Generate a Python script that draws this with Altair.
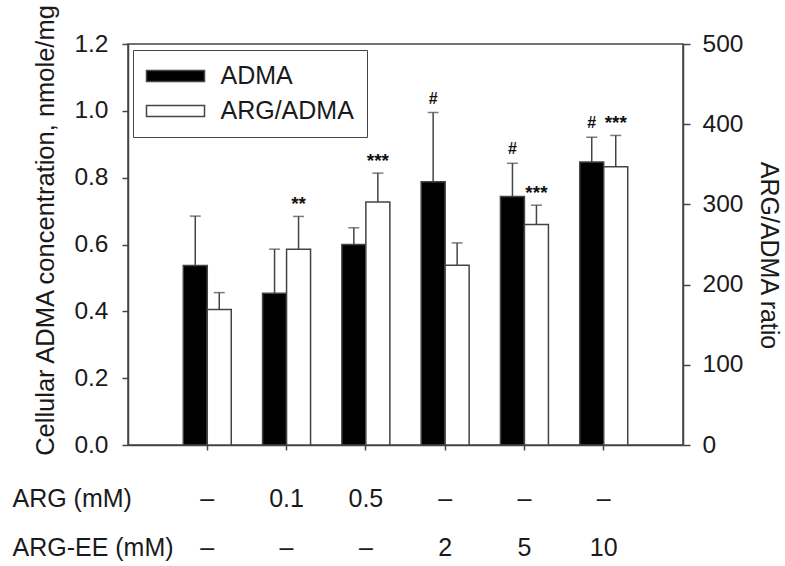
import altair as alt
import pandas as pd

# --- data ---
arg_mM = ["–", "0.1", "0.5", "–", "–", "–"]
arg_ee_mM = ["–", "–", "–", "2", "5", "10"]
series = ["ADMA", "ARG/ADMA"]

adma_mean = [0.537, 0.454, 0.600, 0.788, 0.744, 0.847]
adma_sd = [0.148, 0.132, 0.050, 0.207, 0.099, 0.074]
ratio_mean = [169, 244, 303, 224, 275, 347]
ratio_sd = [21, 41, 36, 28, 24, 39]

adma_sig = ["", "", "", "#", "#", "#"]
ratio_sig = ["", "**", "***", "", "***", "***"]

row_titles = ["ARG (mM)", "ARG-EE (mM)"]
left_ticks = [0.0, 0.2, 0.4, 0.6, 0.8, 1.0, 1.2]
right_ticks = [0, 100, 200, 300, 400, 500]

conds = [f"{a}|{b}" for a, b in zip(arg_mM, arg_ee_mM)]

adma_df = pd.DataFrame({
    "cond": conds, "series": series[0], "mean": adma_mean,
    "top": [m + s for m, s in zip(adma_mean, adma_sd)], "sig": adma_sig,
})
ratio_df = pd.DataFrame({
    "cond": conds, "series": series[1], "mean": ratio_mean,
    "top": [m + s for m, s in zip(ratio_mean, ratio_sd)], "sig": ratio_sig,
})

FONT = "Liberation Sans"
LINE = "#444444"

x_enc = alt.X(
    "cond:N", sort=conds,
    scale=alt.Scale(paddingInner=0.3947, paddingOuter=0.697),
    axis=alt.Axis(
        labelExpr="split(datum.label, '|')",
        labelAngle=0, labelFontSize=25, labelLineHeight=49,
        labelPadding=36, tickSize=5, labelBaseline="top",
        title=row_titles, titleX=-116, titleY=41, titleAlign="left",
        titleBaseline="top", titleAngle=0, titleLineHeight=49,
        titleFontSize=25,
    ),
)
xo_enc = alt.XOffset("series:N", scale=alt.Scale(domain=series))
fill_enc = alt.Fill(
    "series:N",
    scale=alt.Scale(domain=series, range=["#000000", "#ffffff"]),
    legend=alt.Legend(
        title=None, orient="none", legendX=5, legendY=6,
        symbolType="M-1,-0.44H3.64V0.44H-1Z", symbolSize=625,
        symbolStrokeColor=LINE, symbolStrokeWidth=1.5,
        labelFontSize=25, labelOffset=48, rowPadding=8, padding=12.5,
        strokeColor=LINE, fillColor="#ffffff",
    ),
)

left_axis = alt.Axis(
    title="Cellular ADMA concentration, nmole/mg", values=left_ticks,
    format=".1f", tickSize=6, labelPadding=14, labelFontSize=24.5,
    titleX=-70, titleY=186, titleFontSize=25.5,
)
right_axis = alt.Axis(
    title="ARG/ADMA ratio", orient="right", values=right_ticks,
    tickSize=7, labelPadding=12, labelFontSize=24.5,
    titleX=72, titleY=211, titleFontSize=25,
)


def group(df, domain, axis, text_size, text_dy):
    base = alt.Chart(df)
    y_scale = alt.Scale(domain=domain, nice=False)
    bars = base.mark_bar(stroke=LINE, strokeWidth=1.5).encode(
        x=x_enc, xOffset=xo_enc,
        y=alt.Y("mean:Q", scale=y_scale, axis=axis),
        fill=fill_enc,
    )
    err = base.mark_rule(color=LINE, strokeWidth=1.5).encode(
        x=x_enc, xOffset=xo_enc,
        y=alt.Y("mean:Q", scale=y_scale, axis=axis), y2="top:Q",
    )
    cap = base.mark_tick(color=LINE, thickness=1.5, size=11).encode(
        x=x_enc, xOffset=xo_enc,
        y=alt.Y("top:Q", scale=y_scale, axis=axis),
    )
    txt = base.transform_filter("datum.sig != ''").mark_text(
        fontSize=text_size, fontWeight="bold", baseline="alphabetic",
        dy=text_dy, color="#111111", font=FONT,
    ).encode(
        x=x_enc, xOffset=xo_enc,
        y=alt.Y("top:Q", scale=y_scale, axis=axis),
        text="sig:N",
    )
    return alt.layer(bars, err, cap, txt)


adma_layer = group(adma_df, [0, 1.2], left_axis, 16, -9)
ratio_layer = group(ratio_df, [0, 500], right_axis, 19, -6)

chart = (
    alt.layer(adma_layer, ratio_layer)
    .resolve_scale(y="independent")
    .properties(
        width=555, height=401,
        autosize=alt.AutoSizeParams(type="none"),
        padding={"left": 128, "top": 44, "right": 102, "bottom": 121},
        background="white",
    )
    .configure_view(stroke=LINE, strokeWidth=1.5)
    .configure_axis(
        labelFont=FONT, titleFont=FONT, labelColor="#1a1a1a",
        titleColor="#1a1a1a", titleFontWeight="normal",
        domainColor=LINE, tickColor=LINE, domainWidth=1.5, tickWidth=1.5,
        grid=False,
    )
    .configure_legend(labelFont=FONT, labelColor="#1a1a1a")
)

chart.save("out.html", embed_options={"renderer": "svg", "actions": False})
